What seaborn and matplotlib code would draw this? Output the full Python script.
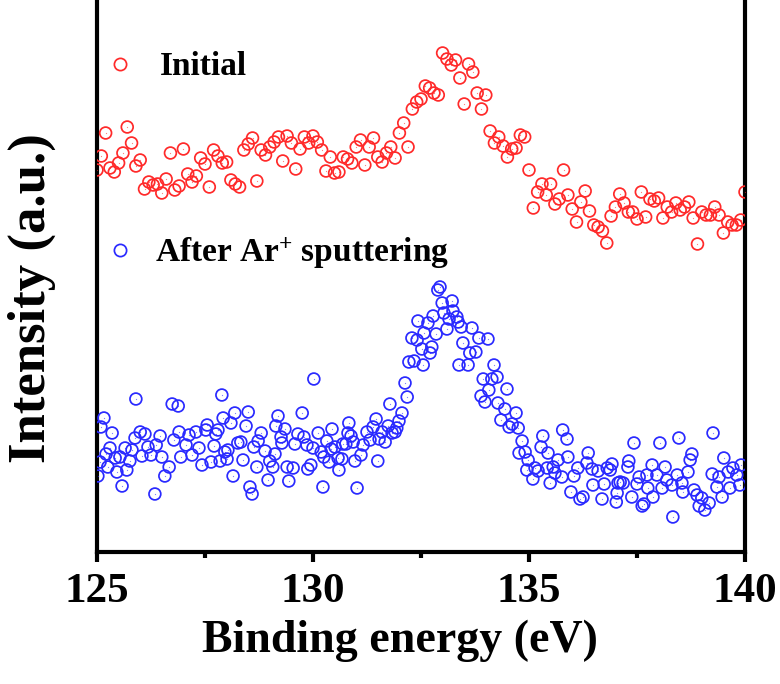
import numpy as np
import pandas as pd
import matplotlib
matplotlib.use("Agg")
import matplotlib.pyplot as plt
from matplotlib.ticker import MultipleLocator, NullLocator
from matplotlib.lines import Line2D
import seaborn as sns

# ---------------- data ----------------
# Initial spectrum: 0.1 eV step from 125 to 140 eV
initial_intensity = [
    382, 396, 419, 384, 380, 389, 399, 425, 409, 386, 392, 363, 370, 367, 368, 359, 373, 399, 362, 366,
    403, 378, 370, 376, 394, 388, 365, 402, 396, 389, 390, 372, 368, 365, 402, 408, 414, 371, 402, 397,
    405, 410, 415, 391, 416, 409, 383, 403, 415, 409, 416, 410, 402,
    381, 395, 379, 380, 395, 393, 389, 405, 412, 387, 405, 414, 395, 390, 399, 405, 394, 419, 429, 405,
    443, 450, 453, 466, 464, 459, 457, 499, 493, 487, 492, 474, 448, 488, 480, 459, 443, 457, 421, 409,
    415, 406, 395, 403, 404, 417, 415, 382, 344, 360, 368,
    357, 368, 348, 353, 382, 357, 343, 330, 350, 361, 341, 327, 325, 321, 309, 336, 345, 358, 349, 340,
    340, 333, 360, 335, 353, 351, 354, 334, 345, 340, 349, 342, 345, 350, 334, 308, 340, 337, 337, 345,
    337, 319, 330, 327, 327, 332, 360,
]
initial_energy = np.linspace(125, 140, len(initial_intensity))

# After Ar+ sputtering spectrum
sputter_energy = [
    125.02, 125.07, 125.09, 125.16, 125.21, 125.25, 125.30, 125.35, 125.42, 125.46,
    125.53, 125.58, 125.65, 125.69, 125.76, 125.81, 125.88, 125.90, 126.00, 126.04,
    126.11, 126.18, 126.25, 126.34, 126.37, 126.46, 126.50, 126.57, 126.67, 126.74,
    126.78, 126.88, 126.90, 126.94, 127.06, 127.13, 127.20, 127.29, 127.36, 127.43,
    127.52, 127.55, 127.64, 127.71, 127.75, 127.80, 127.85, 127.89, 127.92, 127.96,
    128.01, 128.03, 128.10, 128.15, 128.19, 128.26, 128.33, 128.38, 128.45, 128.50,
    128.54, 128.59, 128.63, 128.70, 128.73, 128.80, 128.89, 128.96, 129.00, 129.07,
    129.12, 129.14, 129.19, 129.26, 129.28, 129.35, 129.40, 129.44, 129.54, 129.58,
    129.65, 129.75, 129.79, 129.86, 129.88, 129.95, 130.00, 130.02, 130.12, 130.19,
    130.23, 130.25, 130.32, 130.37, 130.42, 130.44, 130.51, 130.58, 130.60, 130.67,
    130.69, 130.76, 130.81, 130.83, 130.88, 130.93, 130.97, 131.02,
    131.11, 131.16, 131.25, 131.32, 131.39, 131.46, 131.50, 131.53, 131.60, 131.67,
    131.74, 131.78, 131.83, 131.90, 131.94, 131.99, 132.06, 132.13, 132.18, 132.22,
    132.29, 132.34, 132.41, 132.43, 132.52, 132.55, 132.57, 132.66, 132.71, 132.75,
    132.78, 132.85, 132.89, 132.94, 132.99, 133.03, 133.10, 133.15, 133.22, 133.24,
    133.33, 133.36, 133.38, 133.43, 133.47, 133.59, 133.63, 133.68, 133.77, 133.84,
    133.89, 133.94, 133.98, 134.05,
    134.07, 134.14, 134.19, 134.26, 134.28, 134.35, 134.44, 134.49, 134.54, 134.61,
    134.70, 134.75, 134.77, 134.84, 134.91, 134.95, 134.98, 135.09, 135.14, 135.21,
    135.28, 135.32, 135.42, 135.44, 135.49, 135.56, 135.60, 135.67, 135.76, 135.78,
    135.88, 135.90, 135.97, 136.04, 136.13, 136.18, 136.25, 136.34, 136.37, 136.46,
    136.48, 136.60, 136.69, 136.74, 136.81, 136.88, 136.92, 137.04, 137.06,
    137.02, 137.11, 137.18, 137.29, 137.31, 137.38, 137.43, 137.50, 137.55, 137.62,
    137.66, 137.73, 137.75, 137.85, 137.87, 137.96, 138.03, 138.08, 138.15, 138.19,
    138.31, 138.33, 138.43, 138.47, 138.54, 138.56, 138.68, 138.73, 138.77, 138.82,
    138.89, 138.94, 139.00, 139.07, 139.17, 139.24, 139.26, 139.35, 139.40, 139.47,
    139.51, 139.61, 139.65, 139.72, 139.81, 139.88, 139.91,
]
sputter_intensity = [
    76, 90, 125, 134, 98, 85, 104, 119, 94, 80, 95, 66, 104, 82, 91, 102, 114, 153, 120, 96,
    118, 105, 97, 58, 107, 116, 95, 76, 85, 148, 112, 146, 120, 95, 107, 117, 97, 120, 104, 87,
    122, 127, 90, 106, 118, 122, 91, 157, 134, 100,
    93, 102, 129, 76, 139, 109, 110, 92, 126, 140, 65, 58, 105, 85, 111, 119, 101, 72, 91, 85,
    98, 126, 136, 115, 109, 123, 85, 71, 84, 108, 118, 139, 115, 107, 83, 87, 104, 173, 119, 100,
    65, 95, 111, 90, 103, 123, 105, 94, 82, 93, 108, 108, 119, 129, 116, 110, 91, 64,
    97, 107, 120, 112, 125, 133, 91, 113, 120, 110, 126, 148, 119, 120, 124, 131, 139, 169, 155, 190,
    214, 191, 212, 231, 203, 187, 219, 229, 199, 205, 236, 218, 262, 265, 249, 239, 223, 233, 251, 241,
    235, 230, 187, 225, 209, 187, 199, 224, 200, 214, 156, 173, 150, 213,
    162, 173, 187, 175, 149, 132, 143, 163, 125, 128, 139, 124, 99, 111, 100, 82, 92, 73, 84, 81,
    105, 116, 84, 99, 69, 85, 79, 92, 75, 122, 113, 95, 60, 76, 84, 53, 55, 89, 99, 83,
    67, 81, 53, 68, 84, 82, 88, 59, 69,
    50, 70, 69, 85, 91, 55, 109, 68, 75, 46, 48, 77, 64, 87, 55, 77, 109, 64, 85, 72,
    67, 35, 77, 114, 69, 60, 80, 92, 98, 62, 57, 46, 54, 42, 49, 78, 119, 65, 75, 55,
    94, 80, 64, 84, 77, 67, 87,
]

series_labels = ["Initial", r"After Ar$^{\mathbf{+}}$ sputtering"]
series_colors = ["#FF2A2A", "#2A2AFF"]
x_ticks = [125, 130, 135, 140]
x_label = "Binding energy (eV)"
y_label = "Intensity (a.u.)"

# ---------------- style ----------------
sns.set_style("ticks")
plt.rcParams["font.family"] = ["Liberation Serif", "DejaVu Serif"]
plt.rcParams["font.weight"] = "bold"
plt.rcParams["text.color"] = "black"
plt.rcParams["axes.labelcolor"] = "black"
plt.rcParams["xtick.color"] = "black"
plt.rcParams["ytick.color"] = "black"
plt.rcParams["mathtext.fontset"] = "custom"
plt.rcParams["mathtext.rm"] = "Liberation Serif:bold"
plt.rcParams["mathtext.bf"] = "Liberation Serif:bold"
plt.rcParams["mathtext.it"] = "Liberation Serif:bold"

fig = plt.figure(figsize=(7.8, 6.84), dpi=100)
ax = fig.add_axes([97 / 780, 1 - 552 / 684, 648 / 780, 552 / 684])

df_init = pd.DataFrame({"energy": initial_energy, "intensity": initial_intensity})
df_sput = pd.DataFrame({"energy": sputter_energy, "intensity": sputter_intensity})

marker_kw = dict(marker="o", s=72, linewidth=1.25, facecolor="none", zorder=3)
dot_kw = dict(marker="o", s=0.8, linewidth=0, zorder=4)
for df, col in [(df_init, series_colors[0]), (df_sput, series_colors[1])]:
    sns.scatterplot(data=df, x="energy", y="intensity", ax=ax,
                    edgecolor=col, legend=False, **marker_kw)
    sns.scatterplot(data=df, x="energy", y="intensity", ax=ax,
                    color=col, legend=False, alpha=0.6, **dot_kw)

ax.set_xlim(125, 140)
ax.set_ylim(0, 552)

# axes styling
for side in ["left", "right", "bottom"]:
    ax.spines[side].set_linewidth(3)
    ax.spines[side].set_color("black")
ax.spines["top"].set_visible(False)
ax.spines["right"].set_visible(True)

ax.set_xticks(x_ticks)
ax.set_xticklabels([str(t) for t in x_ticks])
ax.xaxis.set_minor_locator(MultipleLocator(2.5))
ax.yaxis.set_major_locator(NullLocator())
ax.yaxis.set_minor_locator(NullLocator())
ax.tick_params(axis="x", which="major", direction="out", length=7, width=3,
               labelsize=31, pad=8, colors="black")
ax.tick_params(axis="x", which="minor", direction="out", length=4, width=3, colors="black")
for lab in ax.get_xticklabels():
    lab.set_fontweight("bold")

ax.set_xlabel(x_label, fontsize=33, fontweight="bold", color="black")
ax.set_ylabel(y_label, fontsize=38, fontweight="bold", color="black")
ax.xaxis.set_label_coords(0.468, -0.122)
ax.yaxis.set_label_coords(-0.064, 0.46)

# legends (two separate entries, as in the reference)
def handle(col):
    return Line2D([], [], linestyle="none", marker="o", markersize=8.8, markerfacecolor="none",
                  markeredgecolor=col, markeredgewidth=1.25)

leg0 = ax.legend([handle(series_colors[0])], [series_labels[0]], loc="center left",
                 bbox_to_anchor=(0.0095, 0.879), frameon=False, handlelength=1.0,
                 handletextpad=0.7, borderpad=0, borderaxespad=0,
                 prop={"weight": "bold", "size": 24}, labelcolor="black")
ax.add_artist(leg0)
ax.legend([handle(series_colors[1])], [series_labels[1]], loc="center left",
          bbox_to_anchor=(0.0095, 0.542), frameon=False, handlelength=1.0,
          handletextpad=0.55, borderpad=0, borderaxespad=0,
          prop={"weight": "bold", "size": 24}, labelcolor="black")

fig.savefig("out.png", dpi=100)
